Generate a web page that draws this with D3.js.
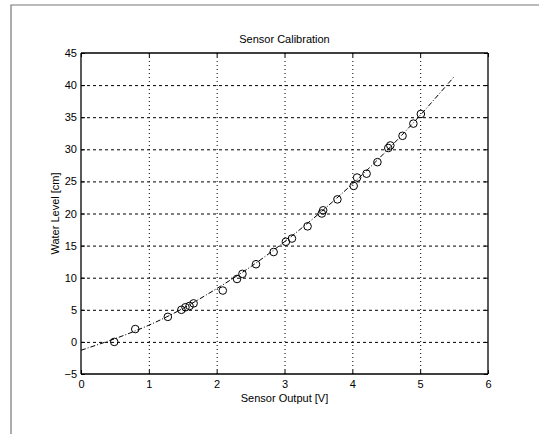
<!DOCTYPE html>
<html>
<head>
<meta charset="utf-8">
<script src="https://cdn.jsdelivr.net/npm/d3@7"></script>
<style>
body { margin: 0; background: #fff; }
text { font-family: "Liberation Sans", Arial, sans-serif; fill: #000; }
</style>
</head>
<body>
<script>
width = 539,
height = 434;

// measured calibration points (sensor output V, water level cm)
var sensorV = [0.49, 0.80, 1.28, 1.48, 1.54, 1.60, 1.66, 2.09, 2.30, 2.38, 2.58, 2.84, 3.02, 3.11, 3.34, 3.55, 3.57, 3.78, 4.02, 4.07, 4.21, 4.37, 4.53, 4.56, 4.74, 4.90, 5.01];
var levelCm = [0.0, 2.0, 3.9, 5.0, 5.4, 5.6, 6.0, 8.0, 9.8, 10.6, 12.1, 14.0, 15.6, 16.1, 18.0, 20.0, 20.5, 22.2, 24.3, 25.6, 26.2, 28.0, 30.2, 30.6, 32.1, 34.0, 35.5];

// fitted curve
var fitV = [0, 0.5, 1, 1.5, 2, 2.5, 3, 3.5, 4, 4.5, 5, 5.5];
var fitCm = [-1.3, 0.5, 2.6, 5.2, 8.3, 11.7, 15.6, 19.9, 24.6, 29.7, 35.3, 41.3];

var xTicks = [0, 1, 2, 3, 4, 5, 6];
var yTicks = [-5, 0, 5, 10, 15, 20, 25, 30, 35, 40, 45];

var margin = {left: 81, right: 51, top: 53, bottom: 60};

var svg = d3.select("body").append("svg").attr("width", width).attr("height", height)

// outer frame (top and left edges only)
svg.append("path").attr("d", "M11,434V5H539").attr("fill", "none").attr("stroke", "#777").attr("stroke-width", 1.2)

X = d3.scaleLinear().domain([0, 6]).range([margin.left, width - margin.right]);
Y = d3.scaleLinear().domain([-5, 45]).range([height - margin.bottom, margin.top]);

var g = svg.append("g")

// grid
g.selectAll(".vgrid").data(xTicks.slice(1, -1)).enter().append("line").attr("class", "vgrid")
	.attr("x1", d => X(d) + 0.5).attr("x2", d => X(d) + 0.5)
	.attr("y1", Y(-5)).attr("y2", Y(45))
	.attr("stroke", "#000").attr("stroke-width", 1).attr("stroke-dasharray", "1,3")
g.selectAll(".hgrid").data(yTicks.slice(1, -1)).enter().append("line").attr("class", "hgrid")
	.attr("x1", X(0)).attr("x2", X(6))
	.attr("y1", d => Y(d) + 0.5).attr("y2", d => Y(d) + 0.5)
	.attr("stroke", "#000").attr("stroke-width", 1).attr("stroke-dasharray", "3,3")

// axes
var axB = d3.axisBottom(X).tickValues(xTicks).tickSize(-4).tickPadding(6).tickFormat(d3.format("d"))
var axL = d3.axisLeft(Y).tickValues(yTicks).tickSize(-4).tickPadding(4).tickFormat(d3.format("d"))
var axT = d3.axisTop(X).tickValues(xTicks).tickSize(-4).tickFormat("")
var axR = d3.axisRight(Y).tickValues(yTicks).tickSize(-4).tickFormat("")

function style(sel) {
	sel.selectAll("path").attr("stroke", "#000").attr("stroke-width", 1.3)
	sel.selectAll("line").attr("stroke", "#000")
	sel.selectAll("text").style("font-size", "11px").style("font-family", "'Liberation Sans', Arial, sans-serif")
}
g.append("g").attr("transform", "translate(0," + Y(-5) + ")").call(axB).call(style).call(s => s.select(".domain").attr("d", "M" + X(0) + ",0H" + X(6)))
g.append("g").attr("transform", "translate(" + X(0) + ",0)").call(axL).call(style).call(s => s.select(".domain").attr("d", "M0," + Y(-5) + "V" + Y(45)))
g.append("g").attr("transform", "translate(0," + Y(45) + ")").call(axT).call(style).call(s => s.select(".domain").attr("d", "M" + X(0) + ",0H" + X(6)))
g.append("g").attr("transform", "translate(" + X(6) + ",0)").call(axR).call(style).call(s => s.select(".domain").attr("d", "M0," + Y(-5) + "V" + Y(45)))

// fitted curve
var line = d3.line().x((d, i) => X(fitV[i])).y(d => Y(d)).curve(d3.curveNatural)
g.append("path").datum(fitCm).attr("d", line)
	.attr("fill", "none").attr("stroke", "#000").attr("stroke-width", 1)
	.attr("stroke-dasharray", "5,2,1,2")

// points
g.selectAll(".dot").data(levelCm).enter().append("circle").attr("class", "dot")
	.attr("cx", (d, i) => X(sensorV[i]))
	.attr("cy", d => Y(d))
	.attr("r", 3.8)
	.style("fill", "none")
	.style("stroke", "black")
	.style("stroke-width", 1)

// labels
svg.append("text").attr("x", (X(0) + X(6)) / 2).attr("y", 43).attr("text-anchor", "middle").style("font-size", "11px").text("Sensor Calibration")
svg.append("text").attr("x", (X(0) + X(6)) / 2).attr("y", 402).attr("text-anchor", "middle").style("font-size", "11px").text("Sensor Output [V]")
svg.append("text").attr("transform", "translate(59," + ((Y(-5) + Y(45)) / 2) + ") rotate(-90)").attr("text-anchor", "middle").style("font-size", "11px").text("Water Level [cm]")
</script>
</body>
</html>
